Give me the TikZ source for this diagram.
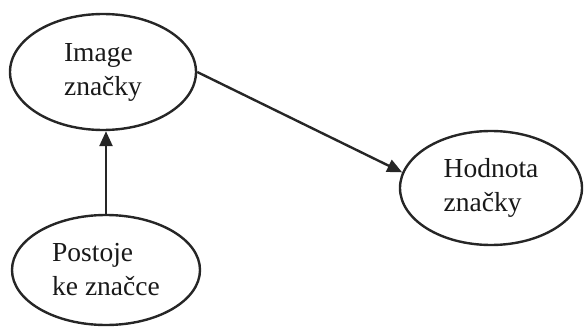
\documentclass[tikz,border=0pt]{standalone}
\usepackage{fontspec}
\setmainfont{Liberation Serif}
\usetikzlibrary{shapes.geometric,arrows.meta}
\begin{document}
\begin{tikzpicture}[x=1pt,y=-1pt,
  bubble/.style={draw=black!85,line width=2.4pt,ellipse,inner sep=0pt,align=left,
    font=\fontsize{27.5}{34}\selectfont,text=black!90},
  link/.style={draw=black!85,line width=2.4pt,-{Triangle[length=15pt,width=13pt]}}]
\useasboundingbox (0,0) rectangle (584,329);
\node[bubble,minimum width=186pt,minimum height=116pt] (img) at (103,72) {Image\\značky};
\node[bubble,minimum width=182pt,minimum height=114pt] (hod) at (491,188) {Hodnota\\značky};
\node[bubble,minimum width=188pt,minimum height=110pt] (pos) at (106,270) {Postoje\\ke značce};
\draw[link] (pos.north) -- (pos.north |- img.south);
\draw[link] (img.east) -- (hod.170);
\end{tikzpicture}
\end{document}
